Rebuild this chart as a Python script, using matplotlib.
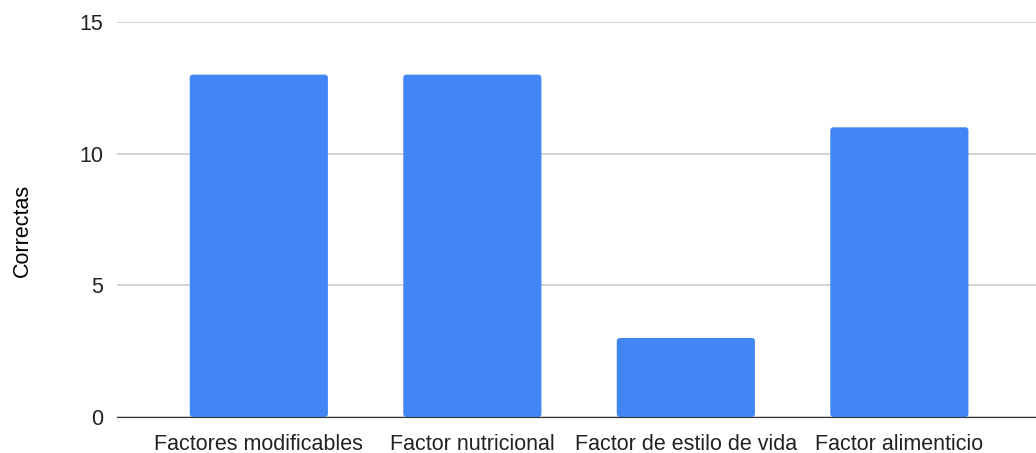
import matplotlib
matplotlib.use("Agg")
from matplotlib import pyplot as plt
from matplotlib.patches import FancyBboxPatch

categorias = ["Factores modificables", "Factor nutricional",
              "Factor de estilo de vida", "Factor alimenticio"]
correctas = [13, 13, 3, 11]
ticks_y = [0, 5, 10, 15]

plt.rcParams["font.family"] = ["Liberation Sans", "DejaVu Sans"]

fig = plt.figure(figsize=(10.36, 4.53), dpi=100)
ax = fig.add_axes([0.113, 0.0795, 0.887, 0.872])

x = range(len(categorias))
bars = ax.bar(x, correctas, width=0.647, color="#4285F4", zorder=3)

ax.set_xlim(-0.664, 3.64)
ax.set_ylim(0, 15)

# swap the plain rectangles for slightly rounded ones
fig.canvas.draw()
px_x = ax.transData.transform((1, 0))[0] - ax.transData.transform((0, 0))[0]
px_y = ax.transData.transform((0, 1))[1] - ax.transData.transform((0, 0))[1]
radio = 3.0 / px_x
for r in bars:
    caja = FancyBboxPatch((r.get_x(), r.get_y()), r.get_width(), r.get_height(),
                          boxstyle=f"round,pad=0,rounding_size={radio}",
                          mutation_aspect=px_x / px_y,
                          facecolor="#4285F4", edgecolor="none", zorder=3)
    ax.add_patch(caja)
    r.set_visible(False)

ax.set_yticks(ticks_y)
ax.set_xticks(list(x))
ax.set_xticklabels(categorias)
ax.grid(axis="y", color="#cccccc", linewidth=1.2, zorder=0)
ax.set_ylabel("Correctas", fontsize=15.5)
ax.yaxis.set_label_coords(-0.0914, 0.473)

for side in ["top", "right", "left"]:
    ax.spines[side].set_visible(False)
ax.spines["bottom"].set_color("#333333")
ax.spines["bottom"].set_zorder(4)
ax.tick_params(axis="both", length=0, labelsize=15.5, colors="#222222")
ax.tick_params(axis="y", pad=10)
ax.tick_params(axis="x", pad=12)

fig.savefig("out.png", dpi=100)
